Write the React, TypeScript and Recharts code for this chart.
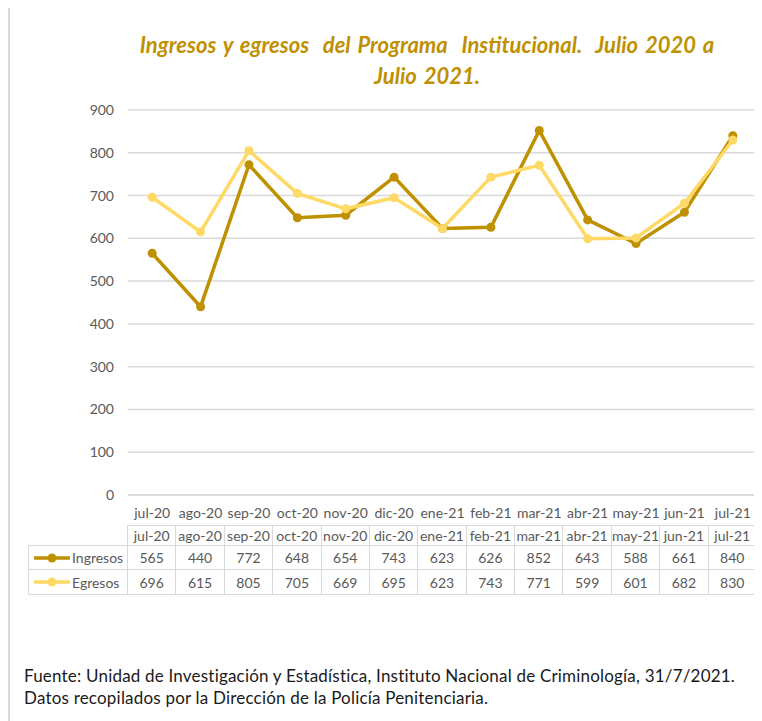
import React from "react"
import { LineChart, Line, XAxis, YAxis, CartesianGrid } from "recharts"

const months = ["jul-20", "ago-20", "sep-20", "oct-20", "nov-20", "dic-20", "ene-21", "feb-21", "mar-21", "abr-21", "may-21", "jun-21", "jul-21"]
const ingresos = [565, 440, 772, 648, 654, 743, 623, 626, 852, 643, 588, 661, 840]
const egresos = [696, 615, 805, 705, 669, 695, 623, 743, 771, 599, 601, 682, 830]
const yTicks = [0, 100, 200, 300, 400, 500, 600, 700, 800, 900]

const series = [
  { name: "Ingresos", values: ingresos, color: "#BF9000" },
  { name: "Egresos", values: egresos, color: "#FFD966" },
]

const chartData = months.map((m, i) => ({ month: m, Ingresos: ingresos[i], Egresos: egresos[i] }))

const FONT = "Lato, 'Open Sans', sans-serif"
const GRID = "#d9d9d9"
const TEXT = "#595959"

// table geometry, matches the plot area
const PLOT_LEFT = 128
const PLOT_RIGHT = 757
const COL_W = (PLOT_RIGHT - PLOT_LEFT) / months.length
const TABLE_LEFT = 29

function LegendKey({ color }: { color: string }) {
  return (
    <svg width={38} height={12} style={{ position: "absolute", left: 4, top: "50%", marginTop: -6 }}>
      <line x1={1} y1={6} x2={37} y2={6} stroke={color} strokeWidth={3.5} />
      <circle cx={19} cy={6} r={4.5} fill={color} />
    </svg>
  )
}

function DataTable() {
  const rows = [
    { top: 526, h: 20 },
    { top: 546, h: 24 },
    { top: 570, h: 25 },
  ]
  const cell = (left: number, top: number, w: number, h: number, key: string, content: React.ReactNode, extra?: React.CSSProperties) => (
    <div
      key={key}
      style={{
        position: "absolute",
        left,
        top,
        width: w,
        height: h,
        boxSizing: "border-box",
        border: `1px solid ${GRID}`,
        marginLeft: -1,
        marginTop: -1,
        display: "flex",
        alignItems: "center",
        justifyContent: "center",
        fontFamily: FONT,
        fontSize: 14,
        color: TEXT,
        ...extra,
      }}
    >
      {content}
    </div>
  )
  const out: React.ReactNode[] = []
  months.forEach((m, i) => {
    out.push(cell(PLOT_LEFT + i * COL_W, rows[0].top, COL_W + 1, rows[0].h + 1, `h${i}`, m))
  })
  series.forEach((s, r) => {
    const row = rows[r + 1]
    out.push(
      cell(TABLE_LEFT, row.top, PLOT_LEFT - TABLE_LEFT + 1, row.h + 1, `l${r}`, (
        <>
          <LegendKey color={s.color} />
          <span style={{ position: "absolute", left: 43 }}>{s.name}</span>
        </>
      ), { justifyContent: "flex-start" })
    )
    s.values.forEach((v, i) => {
      out.push(cell(PLOT_LEFT + i * COL_W, row.top, COL_W + 1, row.h + 1, `c${r}-${i}`, v))
    })
  })
  return <>{out}</>
}

export default function App() {
  return (
    <div style={{ position: "relative", width: 762, height: 721, margin: "-8px 0 0 -8px", background: "#fff", overflow: "hidden" }}>
      <div style={{ position: "absolute", left: 8, top: 6, width: 780, height: 740, borderLeft: "2px solid #d9d9d9", borderTop: "2px solid #d9d9d9" }} />

      <div
        style={{
          position: "absolute",
          left: 0,
          width: 854,
          top: 29,
          textAlign: "center",
          fontFamily: FONT,
          fontStyle: "italic",
          fontWeight: 700,
          fontSize: 22,
          lineHeight: "31px",
          color: "#BF9000",
          whiteSpace: "pre",
          wordSpacing: 2,
        }}
      >
        {"Ingresos y egresos  del Programa  Institucional.  Julio 2020 a"}
        <br />
        {"Julio 2021."}
      </div>

      <div style={{ position: "absolute", left: 0, top: 0 }}>
        <LineChart width={762} height={540} data={chartData} margin={{ top: 110, right: 762 - PLOT_RIGHT, bottom: 0, left: 0 }}>
          <CartesianGrid vertical={false} stroke={GRID} strokeWidth={1.5} />
          <XAxis
            dataKey="month"
            height={45}
            padding={{ left: COL_W / 2, right: COL_W / 2 }}
            axisLine={{ stroke: GRID, strokeWidth: 1.5 }}
            tickLine={false}
            tickMargin={7}
            interval={0}
            tick={{ fill: TEXT, fontSize: 14, fontFamily: FONT }}
          />
          <YAxis
            width={PLOT_LEFT}
            domain={[0, 900]}
            ticks={yTicks}
            axisLine={false}
            tickLine={false}
            tickMargin={8}
            tick={{ fill: TEXT, fontSize: 14, fontFamily: FONT }}
          />
          {series.map((s) => (
            <Line
              key={s.name}
              dataKey={s.name}
              type="linear"
              stroke={s.color}
              strokeWidth={3.5}
              dot={{ r: 4.5, fill: s.color, stroke: s.color, strokeWidth: 0 }}
              isAnimationActive={false}
            />
          ))}
        </LineChart>
      </div>

      <DataTable />

      <div
        style={{
          position: "absolute",
          left: 24,
          top: 665,
          fontFamily: FONT,
          fontSize: 17,
          letterSpacing: 0.2,
          lineHeight: "22px",
          color: "#1a1a1a",
          whiteSpace: "nowrap",
        }}
      >
        Fuente: Unidad de Investigación y Estadística, Instituto Nacional de Criminología, 31/7/2021.
        <br />
        Datos recopilados por la Dirección de la Policía Penitenciaria.
      </div>
    </div>
  )
}
